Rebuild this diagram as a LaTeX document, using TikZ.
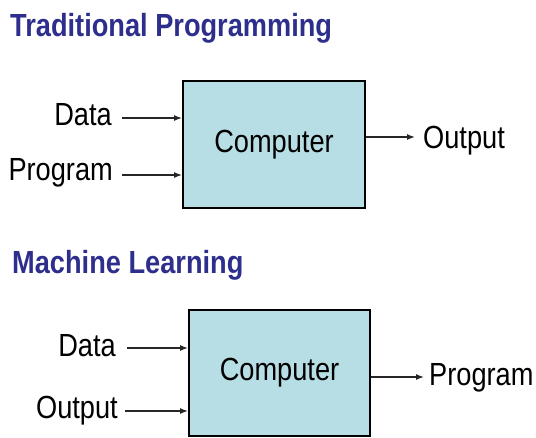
\documentclass[tikz,border=0pt]{standalone}
\usepackage{fontspec}
\setmainfont{Liberation Sans}[FakeStretch=0.85]
\usepackage{xcolor}
\usetikzlibrary{arrows.meta,positioning,calc}

\definecolor{titleblue}{RGB}{46,46,140}
\definecolor{boxfill}{RGB}{183,222,228}

\begin{document}
\begin{tikzpicture}[
    x=1pt, y=-1pt,
    title/.style={anchor=base west, inner sep=0pt, text=titleblue, font=\fontsize{32}{34}\selectfont\bfseries},
    compbox/.style={rectangle, draw, line width=2pt, fill=boxfill, font=\fontsize{32}{34}\selectfont},
    lbl/.style={inner sep=0pt, font=\fontsize{32}{34}\selectfont},
    arrow/.style={-{Latex[length=8pt,width=6pt]}, line width=1.3pt, draw=black!85}
]
    \useasboundingbox (0,0) rectangle (536,437);

    % traditional programming
    \node[title] (tptitle) at (10,36) {Traditional Programming};
    \node[compbox, minimum width=182pt, minimum height=127pt] (comp1) at (274,144.5) {Computer};
    \node[lbl, anchor=base east] (data1) at (112,125) {Data};
    \node[lbl, anchor=base east] (prog1) at (113,180) {Program};
    \node[lbl, anchor=base west] (out1) at (423,148) {Output};
    \coordinate (in1a) at (122,118);
    \coordinate (in1b) at (122,175);
    \coordinate (res1) at (415,137);

    \draw[arrow] (in1a) -- (in1a -| comp1.west);
    \draw[arrow] (in1b) -- (in1b -| comp1.west);
    \draw[arrow] (res1 -| comp1.east) -- (res1);

    % machine learning
    \node[title] (mltitle) at (12,273) {Machine Learning};
    \node[compbox, minimum width=181pt, minimum height=126pt] (comp2) at (279.5,373) {Computer};
    \node[lbl, anchor=base east] (data2) at (116,356) {Data};
    \node[lbl, anchor=base east] (out2) at (118,418) {Output};
    \node[lbl, anchor=base west] (prog2) at (429,385) {Program};
    \coordinate (in2a) at (127,348);
    \coordinate (in2b) at (125,411);
    \coordinate (res2) at (424,377);

    \draw[arrow] (in2a) -- (in2a -| comp2.west);
    \draw[arrow] (in2b) -- (in2b -| comp2.west);
    \draw[arrow] (res2 -| comp2.east) -- (res2);
\end{tikzpicture}
\end{document}
